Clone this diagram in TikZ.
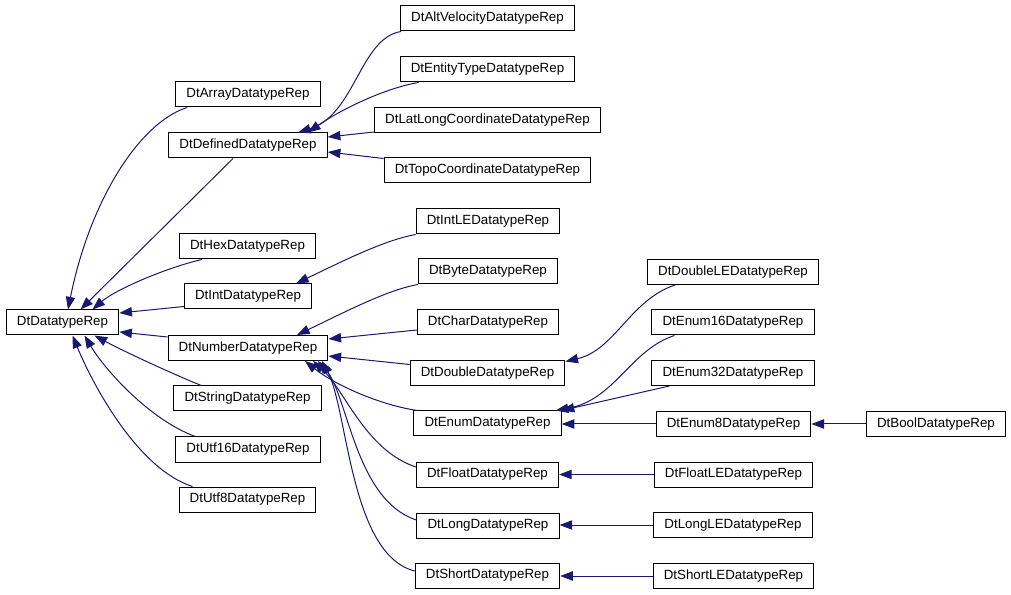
\documentclass[tikz,border=0pt]{standalone}
\usepackage{fontspec}
\setmainfont{Liberation Sans}
\usepackage{tikz}
\usetikzlibrary{arrows.meta,calc}
\usepackage{xcolor}
\definecolor{midblue}{RGB}{25,25,112}

\begin{document}
\begin{tikzpicture}[x=0.75pt, y=-0.75pt, >={Triangle[length=9.5pt,width=7pt]},
    cls/.style={draw=black, fill=white, line width=0.75pt, inner xsep=8pt, inner ysep=0pt,
                minimum height=18.75pt, font=\fontsize{10}{12}\selectfont},
    inh/.style={->, draw=midblue, line width=0.75pt}]
            \useasboundingbox (0,0) rectangle (1011,595);

            % --- Root ---
            \node[cls] (dtrep) at (62.5,322.5) {DtDatatypeRep};

            % --- Level 1 ---
            \node[cls] (arr)  at (248,94.5)   {DtArrayDatatypeRep};
            \node[cls] (defd) at (248,145.5)  {DtDefinedDatatypeRep};
            \node[cls] (hexd) at (247.5,246.5) {DtHexDatatypeRep};
            \node[cls] (intd) at (248,296.5)  {DtIntDatatypeRep};
            \node[cls] (numd) at (248,348)    {DtNumberDatatypeRep};
            \node[cls] (strd) at (247.5,398.5) {DtStringDatatypeRep};
            \node[cls] (u16)  at (248,449.5)  {DtUtf16DatatypeRep};
            \node[cls] (u8)   at (247.5,499.5) {DtUtf8DatatypeRep};

            % --- Level 2 ---
            \node[cls] (alt)     at (487.5,18.5)  {DtAltVelocityDatatypeRep};
            \node[cls] (ent)     at (487.5,69.5)  {DtEntityTypeDatatypeRep};
            \node[cls] (latlong) at (487.5,120)   {DtLatLongCoordinateDatatypeRep};
            \node[cls] (topo)    at (487.5,170.5) {DtTopoCoordinateDatatypeRep};
            \node[cls] (intle)   at (488,221.5)   {DtIntLEDatatypeRep};
            \node[cls] (byte)    at (488,271.5)   {DtByteDatatypeRep};
            \node[cls] (char)    at (488,322.5)   {DtCharDatatypeRep};
            \node[cls] (dbl)     at (487.5,373.5) {DtDoubleDatatypeRep};
            \node[cls] (enm)     at (487.5,423.5) {DtEnumDatatypeRep};
            \node[cls] (flt)     at (487.5,474.5) {DtFloatDatatypeRep};
            \node[cls] (lng)     at (488,525.5)   {DtLongDatatypeRep};
            \node[cls] (shrt)    at (487.5,575.5) {DtShortDatatypeRep};

            % --- Level 3 ---
            \node[cls] (dblle)  at (733,272)   {DtDoubleLEDatatypeRep};
            \node[cls] (e16)    at (733,322.5) {DtEnum16DatatypeRep};
            \node[cls] (e32)    at (733,373)   {DtEnum32DatatypeRep};
            \node[cls] (e8)     at (733.5,424) {DtEnum8DatatypeRep};
            \node[cls] (fltle)  at (733.5,474.5) {DtFloatLEDatatypeRep};
            \node[cls] (lngle)  at (733,525)   {DtLongLEDatatypeRep};
            \node[cls] (shrtle) at (733.5,576) {DtShortLEDatatypeRep};

            % --- Level 4 ---
            \node[cls] (bool) at (936,424) {DtBoolDatatypeRep};

            % Edges into DtDatatypeRep
            \draw[inh] ($(arr.south west)+(12,0)$) .. controls (140,122) and (90,200) .. ($(dtrep.north)+(5.5,0)$);
            \draw[inh] ($(defd.south)+(-15,0)$) -- ($(dtrep.north)+(18,0)$);
            \draw[inh] ($(hexd.south west)+(23,0)$) .. controls (165,268) and (115,290) .. ($(dtrep.north)+(30,0)$);
            \draw[inh] ($(intd.south west)+(0,-3)$) -- ($(dtrep.east)+(0,-9.5)$);
            \draw[inh] ($(numd.north west)+(0,2)$) -- ($(dtrep.east)+(0,9.5)$);
            \draw[inh] ($(strd.north west)+(28,0)$) .. controls (175,375) and (125,352) .. ($(dtrep.south)+(32,0)$);
            \draw[inh] ($(u16.north west)+(20,0)$) .. controls (150,420) and (105,370) .. ($(dtrep.south)+(22,0)$);
            \draw[inh] ($(u8.north west)+(14,0)$) .. controls (140,470) and (95,390) .. ($(dtrep.south)+(10,0)$);

            % Edges into DtDefinedDatatypeRep
            \draw[inh] ($(alt.south west)+(1,0)$) .. controls (360,38) and (355,115) .. ($(defd.north)+(50,0)$);
            \draw[inh] ($(ent.south west)+(19,0)$) .. controls (385,88) and (340,110) .. ($(defd.north)+(60,0)$);
            \draw[inh] ($(latlong.south west)+(0,-1)$) -- ($(defd.east)+(0,-8.5)$);
            \draw[inh] ($(topo.north west)+(0,1)$) -- ($(defd.east)+(0,6.5)$);

            % Edge into DtIntDatatypeRep
            \draw[inh] (intle.south west) .. controls (385,240) and (345,260) .. ($(intd.north)+(48,0)$);

            % Edges into DtNumberDatatypeRep
            \draw[inh] (byte.south west) .. controls (387,290) and (345,312) .. ($(numd.north)+(49,0)$);
            \draw[inh] ($(char.west)+(0,7.5)$) -- ($(numd.east)+(0,-9)$);
            \draw[inh] ($(dbl.north west)+(0,4)$) -- ($(numd.east)+(0,8)$);
            \draw[inh] ($(enm.north west)+(4,0)$) .. controls (380,405) and (335,385) .. ($(numd.south)+(57,0)$);
            \draw[inh] ($(flt.west)+(0,-7.5)$) .. controls (365,450) and (345,390) .. ($(numd.south)+(65,0)$);
            \draw[inh] ($(lng.west)+(0,-5.5)$) .. controls (355,500) and (348,395) .. ($(numd.south)+(70,0)$);
            \draw[inh] ($(shrt.west)+(0,-4.5)$) .. controls (350,555) and (348,410) .. ($(numd.south)+(74,0)$);

            % Edges into level 2
            \draw[inh] ($(dblle.south west)+(28,0)$) .. controls (630,300) and (615,350) .. ($(dbl.north east)+(0,1)$);
            \draw[inh] ($(e16.south west)+(23,0)$) .. controls (630,350) and (615,400) .. ($(enm.north east)+(-6,0)$);
            \draw[inh] ($(e32.south west)+(18,0)$) -- (enm.north east);
            \draw[inh] (e8.west) -- (e8.west -| enm.east);
            \draw[inh] (fltle.west) -- (flt.east);
            \draw[inh] (lngle.west) -- (lngle.west -| lng.east);
            \draw[inh] (shrtle.west) -- (shrtle.west -| shrt.east);

            % Edge into DtEnum8DatatypeRep
            \draw[inh] (bool.west) -- (e8.east);
        \end{tikzpicture}
\end{document}
